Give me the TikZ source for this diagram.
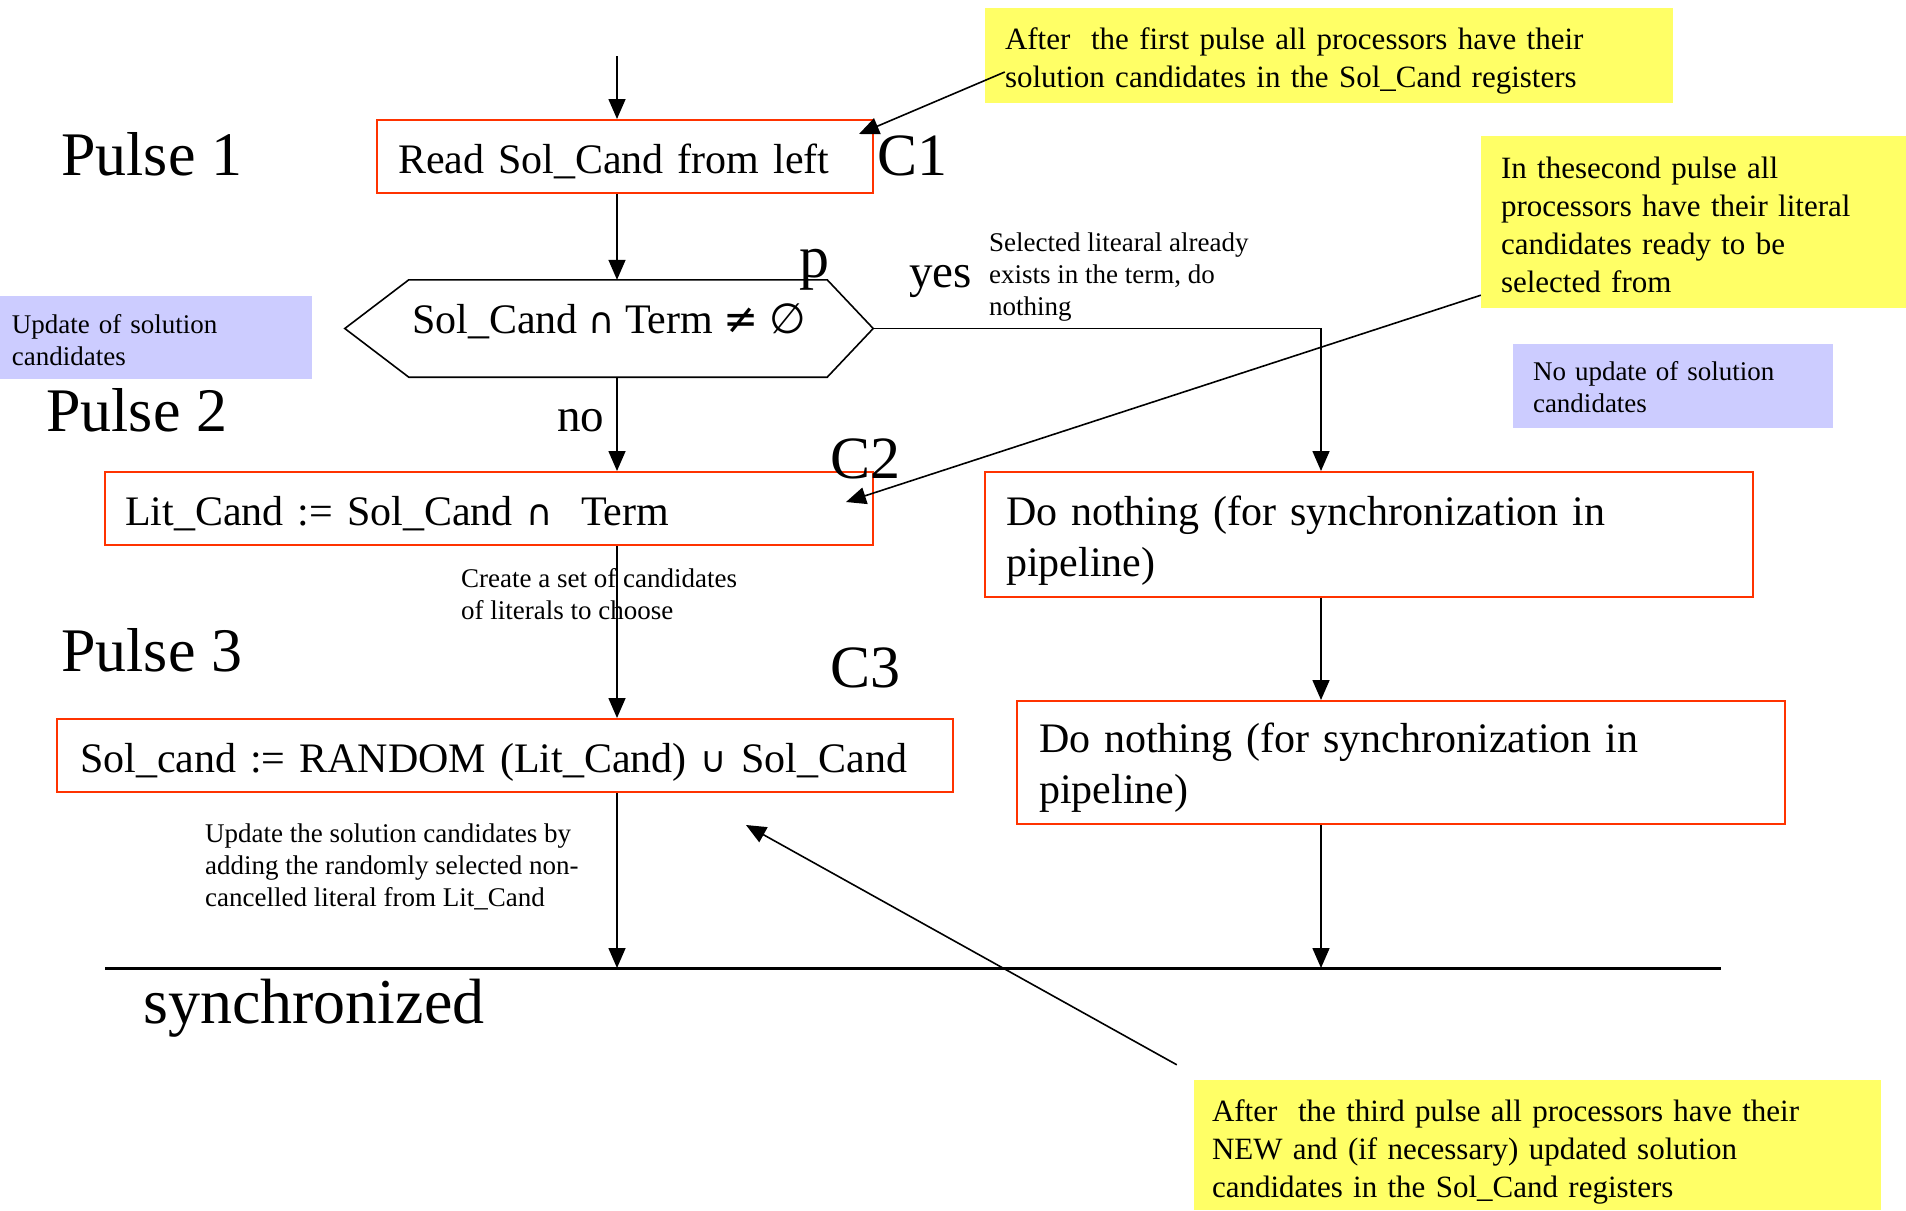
\documentclass[tikz,border=0pt]{standalone}
\usepackage{fontspec}
\setmainfont{Liberation Serif}
\newfontfamily\symfont{DejaVu Sans}
\usetikzlibrary{arrows.meta}
\definecolor{boxred}{RGB}{255,51,0}
\definecolor{noteyellow}{RGB}{255,255,102}
\definecolor{noteblue}{RGB}{204,204,255}
\newcommand{\boxfont}{\fontsize{42}{51}\selectfont}
\newcommand{\notefont}{\fontsize{31}{38}\selectfont}
\newcommand{\smallfont}{\fontsize{27}{32}\selectfont}
\newcommand{\pulsefont}{\fontsize{62}{70}\selectfont}
\newcommand{\cfont}{\fontsize{60}{68}\selectfont}
\newcommand{\midfont}{\fontsize{47}{54}\selectfont}
\newcommand{\lift}[1]{\rule{0pt}{#1pt}}
\newcommand{\sym}[1]{{\symfont #1}}
\newcommand{\smallsym}[1]{{\symfont\fontsize{36}{40}\selectfont #1}}
\begin{document}
\begin{tikzpicture}[x=1pt,y=-1pt,
  flow/.style={-{Triangle[length=20pt,width=17pt]},line width=1.6pt},
  procbox/.style={draw=boxred,line width=2pt,align=left,font=\boxfont,inner ysep=0pt},
  onebox/.style={procbox,text height=36pt,text depth=2pt},
  note/.style={fill=noteyellow,align=left,font=\notefont,inner ysep=0pt},
  memo/.style={fill=noteblue,align=left,font=\smallfont,inner ysep=0pt},
  cmt/.style={align=left,font=\smallfont,inner sep=0pt,anchor=north west},
  pulselabel/.style={font=\pulsefont,inner sep=0pt,anchor=base west},
  clabel/.style={font=\cfont,inner sep=0pt,anchor=base west},
  answer/.style={font=\midfont,inner sep=0pt,anchor=base west}]
\useasboundingbox (0,0) rectangle (1906,1210);
% main column
\node[onebox,text width=454pt,inner xsep=21pt,minimum height=73pt] (rd) at (625,156.5) {Read Sol\_Cand from left};
\node[font=\boxfont,minimum width=528pt,minimum height=97pt,inner sep=0pt,text height=30pt,text depth=21pt] (dec) at (609,328.5) {Sol\_Cand \smallsym{∩} Term \sym{≠} \sym{∅}};
\draw[line width=1.6pt] (dec.west) -- ([xshift=64pt]dec.north west) -- ([xshift=-46pt]dec.north east)
  -- (dec.east) -- ([xshift=-46pt]dec.south east) -- ([xshift=64pt]dec.south west) -- cycle;
\node[onebox,text width=728pt,inner xsep=20pt,minimum height=73pt] (lit) at (489,508.5) {Lit\_Cand := Sol\_Cand \smallsym{∩}\ \ Term};
\node[onebox,text width=850pt,inner xsep=23pt,minimum height=73pt] (sol) at (505,755.5) {Sol\_cand := RANDOM (Lit\_Cand) \smallsym{∪} Sol\_Cand};
% right column
\node[procbox,text width=726pt,inner xsep=21pt,minimum height=125pt] (nop1) at (1369,534.5) {\lift{41}Do nothing (for synchronization in\\pipeline)};
\node[procbox,text width=724pt,inner xsep=22pt,minimum height=123pt] (nop2) at (1401,762.5) {\lift{40}Do nothing (for synchronization in\\pipeline)};
% notes
\node[note,text width=648pt,inner xsep=20pt,minimum height=95pt] (note1) at (1329,55.5) {\lift{32}After\ \ the first pulse all processors have their\\solution candidates in the Sol\_Cand registers};
\node[note,text width=385pt,inner xsep=20pt,minimum height=172pt] (note2) at (1693.5,222) {\lift{27}In thesecond pulse all\\processors have their literal\\candidates ready to be\\selected from};
\node[note,text width=651pt,inner xsep=18pt,minimum height=130pt] (note3) at (1537.5,1145) {\lift{35}After\ \ the third pulse all processors have their\\NEW and (if necessary) updated solution\\candidates in the Sol\_Cand registers};
\node[memo,text width=288pt,inner xsep=12pt,minimum height=83pt] (upd) at (156,337.5) {\lift{24}Update of solution\\candidates};
\node[memo,text width=280pt,inner xsep=20pt,minimum height=84pt] (noupd) at (1673,386) {\lift{21}No update of solution\\candidates};
% labels
\node[pulselabel] (pulse1) at (61,175) {Pulse 1};
\node[pulselabel] (pulse2) at (46,431) {Pulse 2};
\node[pulselabel] (pulse3) at (61,671) {Pulse 3};
\node[pulselabel,font=\fontsize{64}{70}\selectfont] (synced) at (143,1023) {synchronized};
\node[clabel] (c1) at (877,175) {C1};
\node[clabel] (c2) at (830,478) {C2};
\node[clabel] (c3) at (830,687) {C3};
\node[clabel] (plabel) at (799,277) {p};
\node[answer] (yes) at (909,287) {yes};
\node[answer] (no) at (557,431) {no};
% comments
\node[cmt] (cmtyes) at (989,233) {Selected litearal already\\exists in the term, do\\nothing};
\node[cmt] (cmtlit) at (461,568) {Create a set of candidates\\of literals to choose};
\node[cmt] (cmtsol) at (205,824) {Update the solution candidates by\\adding the randomly selected non-\\cancelled literal from Lit\_Cand};
% flow lines
\coordinate (spine) at (617,56);
\coordinate (rspine) at (1321,0);
\coordinate (syncL) at (105,968);
\coordinate (syncR) at (1721,968);
\coordinate (tip3) at (746,825);
\draw[flow] (spine) -- (spine |- rd.north);
\draw[flow] (rd.south -| spine) -- (dec.north -| spine);
\draw[flow] (dec.south -| spine) -- (lit.north -| spine);
\draw[flow] (lit.south -| spine) -- (sol.north -| spine);
\draw[flow] (sol.south -| spine) -- (syncL -| spine);
\draw[flow] (dec.east) -| (nop1.north -| rspine);
\draw[flow] (nop1.south -| rspine) -- (nop2.north -| rspine);
\draw[flow] (nop2.south -| rspine) -- (syncL -| rspine);
% sync line
\draw[line width=3pt] (syncL) -- (syncR);
% pointers from notes
\draw[flow] ([xshift=20pt,yshift=-16.5pt]note1.west) -- ([xshift=-15pt,yshift=-15pt]rd.north east);
\draw[flow] ([yshift=13pt]note2.south west) -- ([xshift=-28pt,yshift=6.5pt]lit.east);
\draw[flow] ([xshift=-17pt,yshift=15pt]note3.north west) -- (tip3);
\end{tikzpicture}
\end{document}
